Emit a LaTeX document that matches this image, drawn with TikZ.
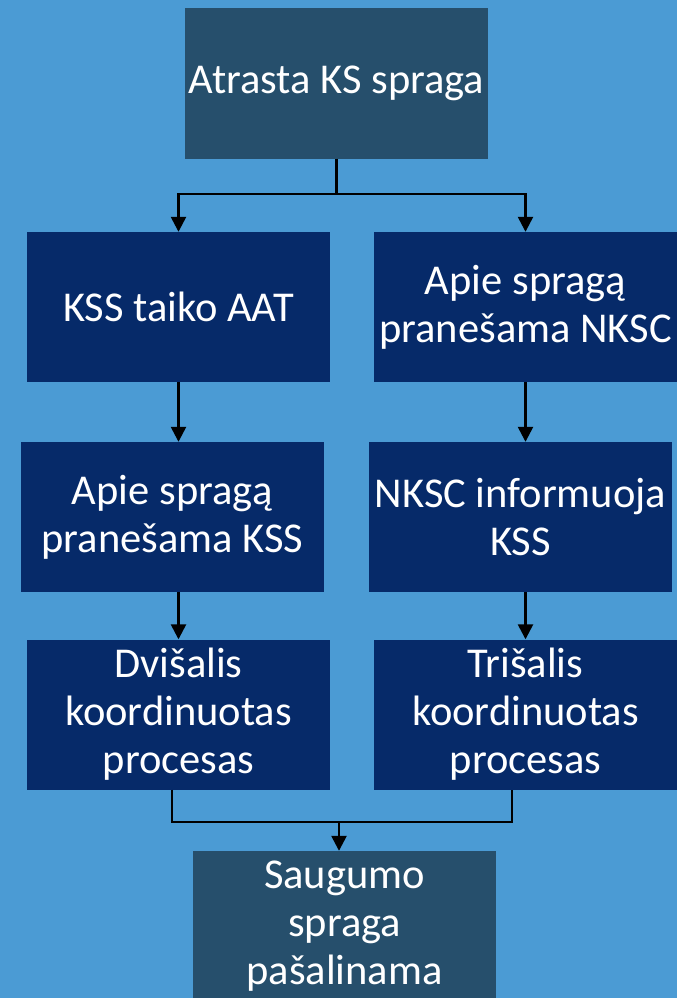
\documentclass[tikz,border=0pt]{standalone}
\usepackage{fontspec}
\setmainfont{Carlito}
\usetikzlibrary{arrows.meta,calc}
\definecolor{bgblue}{HTML}{4B9BD4}
\definecolor{navy}{HTML}{062A69}
\definecolor{teal2}{HTML}{264F6C}
\begin{document}
\begin{tikzpicture}[x=1pt,y=-1pt,
  box/.style={fill=navy,text=white,minimum width=303pt,minimum height=150pt,inner sep=0pt,align=center,
    font=\fontsize{42.5}{48}\selectfont},
  tbox/.style={box,fill=teal2},
  conn/.style={line width=2.5pt,draw=black},
  arr/.style={conn,-{Triangle[width=15pt,length=15pt]}}]
\fill[bgblue] (0,0) rectangle (677,998);
\useasboundingbox (0,0) rectangle (677,998);
\node[tbox] (top) at (336.5,83.5) {Atrasta KS spraga};
\node[box] (L1) at (178.5,307) {KSS taiko AAT};
\node[box] (R1) at (525.5,307) {Apie spragą\\pranešama NKSC};
\node[box] (L2) at (172.5,517) {Apie spragą\\pranešama KSS};
\node[box] (R2) at (520.5,517) {NKSC informuoja\\KSS};
\node[box] (L3) at (178.5,714.5) {Dvišalis\\koordinuotas\\procesas};
\node[box] (R3) at (525.5,714.5) {Trišalis\\koordinuotas\\procesas};
\node[tbox] (bot) at (344.5,926) {Saugumo\\spraga\\pašalinama};
% top split
\coordinate (tj) at (336.5,194);
\draw[conn] (top.south) -- (tj);
\draw[arr] (tj) -| (L1.north);
\draw[arr] (tj) -| (R1.north);
% columns
\draw[arr] (L1.south) -- (L1.south |- L2.north);
\draw[arr] (R1.south) -- (R1.south |- R2.north);
\draw[arr] (L3.north |- L2.south) -- (L3.north);
\draw[arr] (R3.north |- R2.south) -- (R3.north);
% merge
\coordinate (la) at ($(L3.south)+(-6.5,0)$);
\coordinate (ra) at ($(R3.south)+(-13.5,0)$);
\coordinate (mj) at (339,822);
\draw[conn] (la) |- (mj) -| (ra);
\draw[arr] (mj) -- (mj |- bot.north);
\end{tikzpicture}
\end{document}
